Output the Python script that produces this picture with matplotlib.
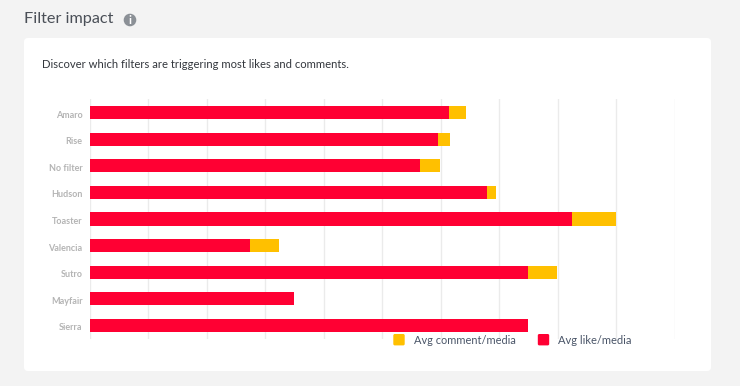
import matplotlib
matplotlib.use("Agg")
import matplotlib.pyplot as plt
from matplotlib.patches import Circle, FancyBboxPatch
from matplotlib.transforms import ScaledTranslation

WIDTH = 740
HEIGHT = 386

filters = ["Amaro", "Rise", "No filter", "Hudson", "Toaster", "Valencia", "Sutro", "Mayfair", "Sierra"]
avg_like = [61.4, 59.5, 56.5, 67.9, 82.4, 27.4, 74.9, 34.9, 74.9]
avg_comment = [2.9, 2.0, 3.4, 1.5, 7.5, 5.0, 5.0, 0, 0]
x_ticks = [0, 10, 20, 30, 40, 50, 60, 70, 80, 90, 100]

RED = "#ff0033"
YELLOW = "#ffc000"
GRID = "#ebebeb"

plt.rcParams["font.family"] = ["Lato", "DejaVu Sans"]

fig = plt.figure(figsize=(WIDTH / 100, HEIGHT / 100), dpi=100, facecolor="#f3f3f3")

# page furniture, drawn in pixel coordinates
page = fig.add_axes([0, 0, 1, 1], zorder=0)
page.set_xlim(0, WIDTH)
page.set_ylim(HEIGHT, 0)
page.axis("off")
page.add_patch(FancyBboxPatch((24, 38), 687, 333, boxstyle="round,pad=0,rounding_size=4",
                              fc="white", ec="none"))
page.text(24, 19.5, "Filter impact", fontsize=11.7, color="#4a4f57", va="center")
page.add_patch(Circle((130, 20), 6.3, fc="#8b9096", ec="none"))
page.text(130, 20.5, "i", fontsize=8.5, color="white", fontweight="bold", ha="center", va="center")
page.text(42, 64, "Discover which filters are triggering most likes and comments.",
          fontsize=8.15, color="#33373d", va="center")

# chart
ax = fig.add_axes([89.5 / WIDTH, 1 - 338.7 / HEIGHT, 585.5 / WIDTH, 239.4 / HEIGHT], zorder=1)
ax.patch.set_alpha(0)
ax.barh(range(len(filters)), avg_like, height=0.5, color=RED, zorder=3)
ax.barh(range(len(filters)), avg_comment, left=avg_like, height=0.5, color=YELLOW, zorder=3)
ax.set_xlim(0, 100)
ax.set_ylim(len(filters) - 0.5, -0.5)
ax.set_xticks(x_ticks)
ax.set_yticks(range(len(filters)))
ax.set_yticklabels(filters, fontsize=6.5, color="#b4b4b4", fontweight="bold")
ax.tick_params(length=0, pad=5, labelbottom=False)
# labels sit a little below the bar centres
nudge = ScaledTranslation(0, -1.5 / 100, fig.dpi_scale_trans)
for label in ax.get_yticklabels():
    label.set_transform(label.get_transform() + nudge)
ax.grid(axis="x", color=GRID, lw=1, zorder=0)
ax.set_axisbelow(True)
for spine in ax.spines.values():
    spine.set_visible(False)

# legend sits on top of the plot area
overlay = fig.add_axes([0, 0, 1, 1], zorder=2)
overlay.set_xlim(0, WIDTH)
overlay.set_ylim(HEIGHT, 0)
overlay.axis("off")
overlay.add_patch(FancyBboxPatch((393.3, 334), 11.4, 11.4, boxstyle="round,pad=0,rounding_size=1.5",
                                 fc=YELLOW, ec="none"))
overlay.text(414, 341, "Avg comment/media", fontsize=7.9, color="#4a5568", va="center")
overlay.add_patch(FancyBboxPatch((537.8, 334), 11.4, 11.4, boxstyle="round,pad=0,rounding_size=1.5",
                                 fc=RED, ec="none"))
overlay.text(558.5, 341, "Avg like/media", fontsize=8, color="#4a5568", va="center")

fig.savefig("out.png", dpi=100, facecolor=fig.get_facecolor())
